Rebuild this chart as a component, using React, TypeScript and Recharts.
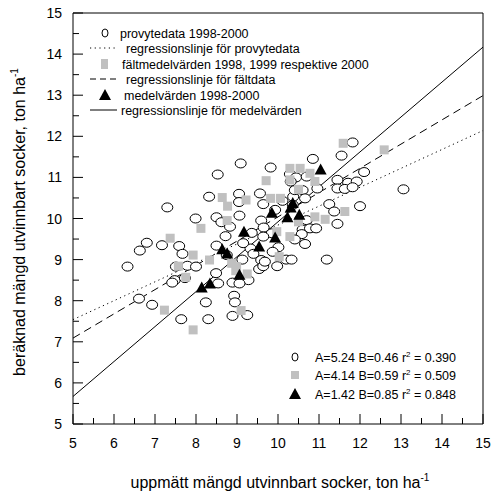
import { ScatterChart, Scatter, XAxis, YAxis, ReferenceLine } from 'recharts';

// provytedata 1998-2000 (uppmätt, beräknad)
const provytedata: [number, number][] = [
  [9.09, 11.34], [8.53, 11.07], [7.3, 10.27], [8.32, 10.53], [9.05, 10.6], [9.05, 10.4],
  [9.06, 10.07], [9.56, 10.61], [7.99, 10.0], [8.5, 10.03], [8.62, 9.91], [8.83, 9.8],
  [8.72, 9.57], [6.8, 9.41], [6.63, 9.22], [7.17, 9.35], [7.59, 9.33], [7.67, 9.14],
  [6.33, 8.83], [7.51, 8.83], [7.79, 8.85], [8.0, 8.83], [8.5, 9.34], [8.75, 9.11],
  [9.13, 9.0], [9.33, 9.27], [9.59, 9.95], [9.65, 9.78], [9.36, 9.65], [9.15, 9.4],
  [9.59, 8.99], [9.54, 8.77], [9.64, 8.84], [8.49, 8.67], [8.54, 8.42], [7.48, 8.5],
  [7.42, 8.44], [9.28, 8.5], [8.89, 8.44], [9.06, 8.42], [6.61, 8.05], [8.93, 8.12],
  [6.93, 7.9], [7.64, 7.55], [8.3, 7.55], [8.24, 7.96], [8.95, 7.96], [8.89, 7.63],
  [9.25, 7.65], [9.68, 8.95], [7.73, 8.55], [11.82, 11.85], [11.55, 11.53], [10.85, 11.45],
  [9.82, 11.24], [10.29, 11.08], [10.44, 11.0], [10.31, 10.9], [10.7, 11.02], [10.96, 10.73],
  [10.6, 10.69], [12.1, 11.13], [11.45, 10.94], [11.71, 10.87], [11.92, 10.9], [11.45, 10.73],
  [11.63, 10.72], [11.82, 10.76], [13.06, 10.71], [10.37, 10.53], [10.41, 10.69], [10.11, 10.43],
  [10.36, 10.33], [10.66, 10.49], [11.25, 10.35], [11.37, 10.17], [12.0, 10.3], [9.64, 10.35],
  [9.93, 10.21], [10.7, 9.96], [10.6, 9.73], [10.78, 9.76], [10.93, 9.76], [11.45, 9.87],
  [10.58, 9.62], [10.41, 9.49], [10.66, 9.38], [10.01, 9.3], [9.87, 9.19], [9.85, 9.64],
  [9.64, 9.56], [9.4, 9.14], [10.2, 9.0], [10.33, 9.0], [11.19, 9.0], [9.98, 8.84],
];

// fältmedelvärden 1998, 1999 respektive 2000
const faltdata: [number, number][] = [
  [7.23, 7.77], [7.93, 7.29], [9.1, 7.76], [9.25, 8.65], [8.97, 8.73], [8.87, 8.91],
  [8.33, 8.99], [7.93, 9.11], [7.57, 8.84], [7.75, 8.57], [7.37, 9.52], [8.12, 9.76],
  [8.64, 10.51], [8.77, 10.3], [9.22, 10.45], [9.71, 10.92], [8.76, 9.95], [11.59, 11.83],
  [12.59, 11.67], [10.29, 11.22], [10.54, 11.22], [10.78, 11.1], [10.9, 10.9], [10.29, 10.94],
  [9.82, 10.49], [10.5, 10.71], [11.63, 10.17], [11.15, 9.98], [10.9, 10.04], [10.5, 9.92],
  [10.06, 10.49], [10.29, 9.56], [9.97, 9.68], [10.03, 9.07], [8.99, 8.83],
];

// medelvärden 1998-2000
const medeldata: [number, number][] = [
  [8.14, 8.32], [8.34, 8.42], [8.64, 9.25], [8.76, 9.15], [9.06, 8.63], [9.17, 9.68],
  [9.54, 9.32], [9.93, 9.54], [9.85, 10.14], [10.23, 10.03], [10.31, 10.27], [10.36, 10.38],
  [10.52, 10.09], [11.04, 11.19],
];

// regression: y = A + B x
const regA = [5.24, 4.14, 1.42];
const regB = [0.46, 0.59, 0.85];
const regR2 = ['0.390', '0.509', '0.848'];

const axisTicks = [5, 5.5, 6, 6.5, 7, 7.5, 8, 8.5, 9, 9.5, 10, 10.5, 11, 11.5, 12, 12.5, 13, 13.5, 14, 14.5, 15];
const domain: [number, number] = [5, 15];

const legendLabels = [
  'provytedata 1998-2000',
  'regressionslinje för provytedata',
  'fältmedelvärden 1998, 1999 respektive 2000',
  'regressionslinje för fältdata',
  'medelvärden 1998-2000',
  'regressionslinje för medelvärden',
];

const FONT = '"Liberation Sans", Arial, sans-serif';
const GREY = '#c0c0c0';

const toPoints = (arr: [number, number][]) => arr.map(([x, y]) => ({ x, y }));

const EllipseDot = (props: any) => (
  <ellipse cx={props.cx} cy={props.cy} rx={5.5} ry={4.5} fill="#fff" stroke="#000" strokeWidth={1} />
);
const SquareDot = (props: any) => (
  <rect x={props.cx - 4.5} y={props.cy - 4.5} width={9} height={9} fill={GREY} />
);
const TriangleDot = (props: any) => {
  const { cx, cy } = props;
  return <polygon points={`${cx},${cy - 6} ${cx + 6},${cy + 5} ${cx - 6},${cy + 5}`} fill="#000" />;
};

const isMajor = (v: number) => Number.isInteger(v);

const BottomTick = (props: any) => {
  const { x, y, payload } = props;
  const v = payload.value;
  return (
    <g>
      <line x1={x} y1={y} x2={x} y2={y - (isMajor(v) ? 10 : 6)} stroke="#000" />
      {isMajor(v) && (
        <text x={x} y={y + 24} textAnchor="middle" fontSize={14} fontFamily={FONT} fill="#000">
          {v}
        </text>
      )}
    </g>
  );
};

const TopTick = (props: any) => {
  const { x, y, payload } = props;
  const v = payload.value;
  return <line x1={x} y1={y} x2={x} y2={y + (isMajor(v) ? 10 : 6)} stroke="#000" />;
};

const LeftTick = (props: any) => {
  const { x, y, payload } = props;
  const v = payload.value;
  return (
    <g>
      <line x1={x} y1={y} x2={x + (isMajor(v) ? 10 : 6)} y2={y} stroke="#000" />
      {isMajor(v) && (
        <text x={x - 11} y={y + 5} textAnchor="end" fontSize={14} fontFamily={FONT} fill="#000">
          {v}
        </text>
      )}
    </g>
  );
};

const RightTick = (props: any) => {
  const { x, y, payload } = props;
  const v = payload.value;
  return <line x1={x} y1={y} x2={x - (isMajor(v) ? 10 : 6)} y2={y} stroke="#000" />;
};

const XTitle = () => (
  <text x={280} y={488} textAnchor="middle" fontSize={16} fontFamily={FONT} fill="#000">
    uppmätt mängd utvinnbart socker, ton ha
    <tspan dy={-7} fontSize={10}>-1</tspan>
  </text>
);

const YTitle = () => (
  <text
    x={0}
    y={0}
    transform="translate(25,222) rotate(-90)"
    textAnchor="middle"
    fontSize={16}
    fontFamily={FONT}
    fill="#000"
  >
    beräknad mängd utvinnbart socker, ton ha
    <tspan dy={-7} fontSize={10}>-1</tspan>
  </text>
);

// top-left legend
const TopLegend = () => {
  const rowY = [33, 48, 64, 79, 95, 110];
  const markers = [
    <ellipse key="m0" cx={105} cy={rowY[0]} rx={3} ry={4} fill="#fff" stroke="#000" />,
    <line key="m1" x1={90} y1={rowY[1]} x2={117} y2={rowY[1]} stroke="#000" strokeDasharray="1.2 3.5" />,
    <rect key="m2" x={101} y={rowY[2] - 5} width={7} height={10} fill={GREY} />,
    <line key="m3" x1={90} y1={rowY[3]} x2={117} y2={rowY[3]} stroke="#000" strokeDasharray="6 4" />,
    <polygon key="m4" points={`105,${rowY[4] - 6} 111,${rowY[4] + 5} 99,${rowY[4] + 5}`} fill="#000" />,
    <line key="m5" x1={90} y1={rowY[5]} x2={117} y2={rowY[5]} stroke="#000" />,
  ];
  const textX = [120, 126, 122, 126, 124, 121];
  return (
    <g fontFamily={FONT} fontSize={12.5} fill="#000">
      {markers}
      {legendLabels.map((t, i) => (
        <text key={t} x={textX[i]} y={rowY[i] + 4.5}>
          {t}
        </text>
      ))}
    </g>
  );
};

// bottom-right regression legend
const StatsLegend = () => {
  const rowY = [357, 375, 394];
  const markers = [
    <ellipse key="s0" cx={295} cy={rowY[0]} rx={3} ry={4} fill="#fff" stroke="#000" />,
    <rect key="s1" x={291} y={rowY[1] - 4} width={8} height={8} fill={GREY} />,
    <polygon key="s2" points={`295,${rowY[2] - 6} 301,${rowY[2] + 5} 289,${rowY[2] + 5}`} fill="#000" />,
  ];
  return (
    <g fontFamily={FONT} fontSize={12.5} fill="#000">
      {markers}
      {regA.map((a, i) => (
        <text key={i} x={315} y={rowY[i] + 4.5}>
          {`A=${a.toFixed(2)} B=${regB[i].toFixed(2)} r`}
          <tspan dy={-5} fontSize={8}>2</tspan>
          <tspan dy={5}>{` = ${regR2[i]}`}</tspan>
        </text>
      ))}
    </g>
  );
};

const lineStyles = [
  { dash: '1.2 3.5' },
  { dash: '8 5' },
  { dash: undefined },
];

export default function App() {
  return (
    <div style={{ position: 'absolute', left: 0, top: 0, width: 491, height: 491, background: '#fff' }}>
      <ScatterChart width={491} height={491} margin={{ top: 12, right: 7, bottom: 66, left: 72 }}>
        <XAxis
          dataKey="x"
          type="number"
          domain={domain}
          ticks={axisTicks}
          interval={0}
          height={1}
          tickSize={0}
          tickMargin={0}
          tickLine={false}
          tick={BottomTick}
          stroke="#000"
          label={{ content: XTitle }}
        />
        <XAxis
          xAxisId="top"
          orientation="top"
          type="number"
          domain={domain}
          ticks={axisTicks}
          interval={0}
          height={1}
          tickSize={0}
          tickMargin={0}
          tickLine={false}
          tick={TopTick}
          stroke="#000"
          label={{ content: TopLegend }}
        />
        <YAxis
          dataKey="y"
          type="number"
          domain={domain}
          ticks={axisTicks}
          interval={0}
          width={1}
          tickSize={0}
          tickMargin={0}
          tickLine={false}
          tick={LeftTick}
          stroke="#000"
          label={{ content: YTitle }}
        />
        <YAxis
          yAxisId="right"
          orientation="right"
          type="number"
          domain={domain}
          ticks={axisTicks}
          interval={0}
          width={1}
          tickSize={0}
          tickMargin={0}
          tickLine={false}
          tick={RightTick}
          stroke="#000"
          label={{ content: StatsLegend }}
        />
        <Scatter data={toPoints(provytedata)} shape={EllipseDot} isAnimationActive={false} />
        <Scatter data={toPoints(faltdata)} shape={SquareDot} isAnimationActive={false} />
        <Scatter data={toPoints(medeldata)} shape={TriangleDot} isAnimationActive={false} />
        {regA.map((a, i) => (
          <ReferenceLine
            key={`reg-${i}`}
            segment={[
              { x: domain[0], y: a + regB[i] * domain[0] },
              { x: domain[1], y: a + regB[i] * domain[1] },
            ]}
            stroke="#000"
            strokeWidth={1}
            strokeDasharray={lineStyles[i].dash}
          />
        ))}
      </ScatterChart>
    </div>
  );
}
